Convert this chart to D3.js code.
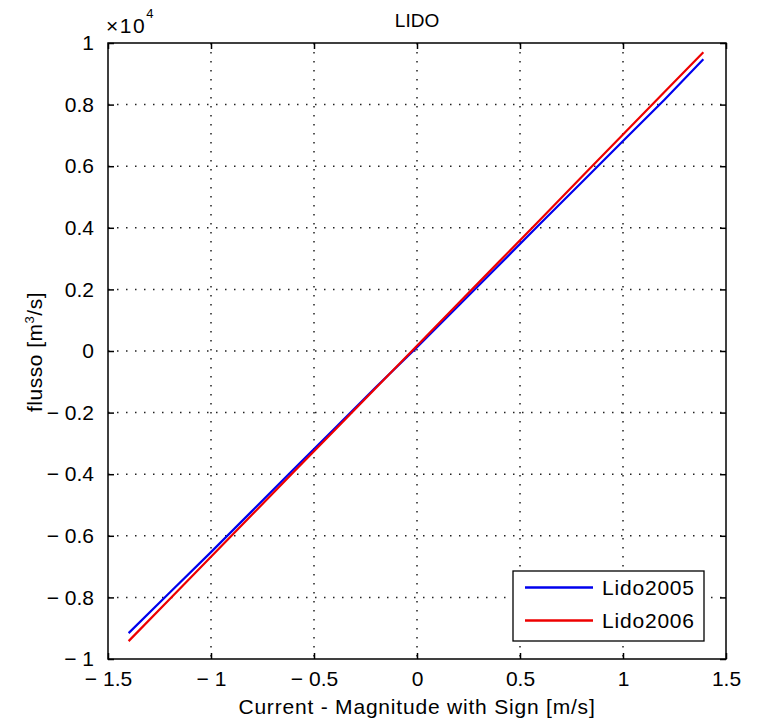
<!DOCTYPE html>
<html>
<head>
<meta charset="utf-8">
<script src="https://cdn.jsdelivr.net/npm/d3@7"></script>
<style>
  html, body { margin: 0; padding: 0; background: #fff; }
  text { font-family: "Liberation Sans", Arial, Helvetica, sans-serif; fill: #000; }
</style>
</head>
<body>
<svg id="chart" width="759" height="723"></svg>
<script>
// ---- data (flow in m^3/s, current in m/s) ----
const currentX = [-1.40, -1.2, -1.0, -0.8, -0.6, -0.4, -0.2, 0, 0.2, 0.4, 0.6, 0.8, 1.0, 1.2, 1.39];
const lido2005 = [-9160, -7840, -6530, -5190, -3850, -2520, -1180, 120, 1460, 2800, 4150, 5480, 6820, 8150, 9470];
const lido2006 = [-9420, -8050, -6680, -5310, -3940, -2570, -1200, 170, 1540, 2910, 4280, 5660, 7030, 8400, 9700];
const seriesNames = ["Lido2005", "Lido2006"];
const seriesColors = ["#0000ee", "#ee0000"];
const xTicks = [-1.5, -1, -0.5, 0, 0.5, 1, 1.5];
const yTicks = [-1, -0.8, -0.6, -0.4, -0.2, 0, 0.2, 0.4, 0.6, 0.8, 1];
const yScaleExp = 4;
const titleText = "LIDO";
const xLabelText = "Current - Magnitude with Sign [m/s]";

// ---- layout ----
const svg = d3.select("#chart");
const L = 108, R = 726, T = 43, B = 659;
const x = d3.scaleLinear().domain([-1.5, 1.5]).range([L, R]);
const y = d3.scaleLinear().domain([-10000, 10000]).range([B, T]);
const FS = 21;
const tickLen = 6;

// grid
const grid = svg.append("g");
grid.selectAll("line.gx").data(xTicks.slice(1, -1)).enter().append("line")
  .attr("x1", d => x(d)).attr("x2", d => x(d)).attr("y1", T).attr("y2", B)
  .attr("stroke", "#222").attr("stroke-width", 1.5).attr("stroke-dasharray", "1.5,7.5");
grid.selectAll("line.gy").data(yTicks.slice(1, -1)).enter().append("line")
  .attr("y1", d => y(d * 1e4)).attr("y2", d => y(d * 1e4)).attr("x1", L).attr("x2", R)
  .attr("stroke", "#222").attr("stroke-width", 1.5).attr("stroke-dasharray", "1.5,7.5");

// axes via d3 axis generators (ticks inward)
const fmt = d => (d < 0 ? "\u2212 " : "") + Math.abs(d);
const xAxisB = d3.axisBottom(x).tickValues(xTicks).tickSize(-tickLen).tickPadding(12).tickFormat(fmt);
const xAxisT = d3.axisTop(x).tickValues(xTicks).tickSize(-tickLen).tickFormat("");
const yAxisL = d3.axisLeft(y).tickValues(yTicks.map(v => v * 1e4)).tickSize(-tickLen).tickPadding(14).tickFormat(d => fmt(+(d / 1e4).toFixed(1)));
const yAxisR = d3.axisRight(y).tickValues(yTicks.map(v => v * 1e4)).tickSize(-tickLen).tickFormat("");

function style(g) {
  g.select(".domain").remove();
  g.selectAll(".tick line").attr("stroke", "#000").attr("stroke-width", 1.5);
  g.selectAll(".tick text").style("font-size", FS + "px").style("white-space", "pre")
    .style("font-family", '"Liberation Sans", Arial, sans-serif').attr("fill", "#111");
}
svg.append("g").attr("transform", `translate(0,${B})`).call(xAxisB).call(style);
svg.append("g").attr("transform", `translate(0,${T})`).call(xAxisT).call(style);
svg.append("g").attr("transform", `translate(${L},0)`).call(yAxisL).call(style);
svg.append("g").attr("transform", `translate(${R},0)`).call(yAxisR).call(style);

// series lines
const line = d3.line().x(d => x(d[0])).y(d => y(d[1]));
[lido2005, lido2006].forEach((vals, i) => {
  svg.append("path")
    .datum(currentX.map((cx, j) => [cx, vals[j]]))
    .attr("d", line).attr("fill", "none")
    .attr("stroke", seriesColors[i]).attr("stroke-width", 2.2);
});

// box
svg.append("rect").attr("x", L).attr("y", T).attr("width", R - L).attr("height", B - T)
  .attr("fill", "none").attr("stroke", "#000").attr("stroke-width", 1.5);

// exponent label
const ex = svg.append("text").attr("x", 106).attr("y", 33).style("font-size", FS + "px").style("letter-spacing", "1.5px");
ex.append("tspan").text("\u00d710");
ex.append("tspan").attr("dy", -15).style("font-size", "13px").text(yScaleExp);

// title
svg.append("text").attr("x", (L + R) / 2).attr("y", 27).attr("text-anchor", "middle")
  .style("font-size", "19px").text(titleText);

// x label
svg.append("text").attr("x", (L + R) / 2).attr("y", 714).attr("text-anchor", "middle")
  .style("font-size", FS + "px").style("letter-spacing", "0.8px").text(xLabelText);

// y label
const yl = svg.append("text").attr("transform", "translate(42,352) rotate(-90)")
  .attr("text-anchor", "middle").style("font-size", FS + "px").style("letter-spacing", "0.5px");
yl.append("tspan").text("flusso [m");
yl.append("tspan").attr("dy", -8).style("font-size", "13px").text("3");
yl.append("tspan").attr("dy", 8).text("/s]");

// legend
const lg = svg.append("g");
lg.append("rect").attr("x", 513).attr("y", 571).attr("width", 191).attr("height", 70)
  .attr("fill", "#fff").attr("stroke", "#000").attr("stroke-width", 1.3);
seriesNames.forEach((name, i) => {
  const ly = 587.5 + i * 33;
  lg.append("line").attr("x1", 525).attr("x2", 593).attr("y1", ly).attr("y2", ly)
    .attr("stroke", seriesColors[i]).attr("stroke-width", 2.5);
  lg.append("text").attr("x", 602).attr("y", ly + 7).style("font-size", FS + "px")
    .style("letter-spacing", "0.8px").text(name);
});
</script>
</body>
</html>
